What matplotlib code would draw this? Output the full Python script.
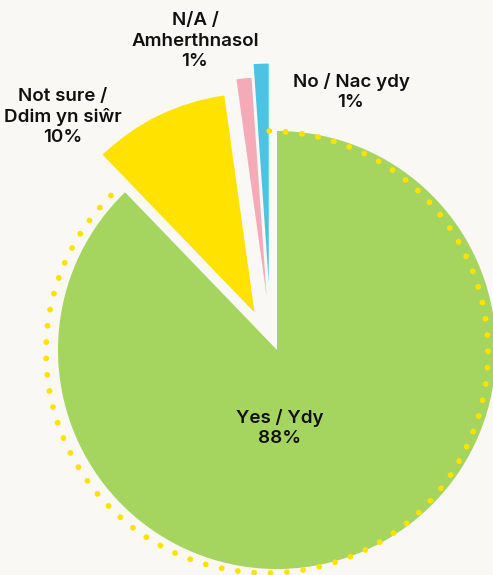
import math
import matplotlib
matplotlib.use("Agg")
import matplotlib.pyplot as plt
from matplotlib.patches import Arc

# survey answers, clockwise from 12 o'clock
labels = ["Yes / Ydy", "Not sure /\nDdim yn siŵr", "N/A /\nAmherthnasol", "No / Nac ydy"]
values = [87.8, 10.0, 1.1, 1.1]
pct_text = ["88%", "10%", "1%", "1%"]
colors = ["#a5d55f", "#ffe200", "#f5aab8", "#4cc3e1"]
explode = [0, 0.2, 0.25, 0.31]

bg = "#f9f8f5"
W, H = 493, 575
cx, cy, r = 277, H - 350, 219
tilt = 5  # degrees: pulled-out slices lean a bit further left than their middle

plt.rcParams["font.family"] = ["Inter", "DejaVu Sans"]

fig = plt.figure(figsize=(W / 100, H / 100), dpi=100, facecolor=bg)
ax = fig.add_axes([0, 0, 1, 1])
ax.set_facecolor(bg)

wedges, _ = ax.pie(values, colors=colors, startangle=90, counterclock=False,
                   center=(cx, cy), radius=r, wedgeprops=dict(linewidth=0))

# pull out slices along their middle angle (plus the small tilt)
for w, e in zip(wedges, explode):
    if e:
        mid = math.radians((w.theta1 + w.theta2) / 2 + tilt)
        w.set_center((cx + e * r * math.cos(mid), cy + e * r * math.sin(mid)))

# dotted outline round the big slice
yes_span = values[0] / sum(values) * 360
ring = Arc((cx - 10, cy - 2), 2 * 221, 2 * 221, theta1=90 - yes_span + 1, theta2=450,
           color="#ffe200", lw=4.2, linestyle=(0, (0.01, 2.8)), capstyle="round")
ax.add_patch(ring)

ax.set_xlim(0, W)
ax.set_ylim(0, H)
ax.set_aspect("equal")
ax.axis("off")

tkw = dict(ha="center", va="center", fontsize=13.5, fontweight="semibold",
           color="#111111", linespacing=1.25)
ax.text(280, H - 428, labels[0] + "\n" + pct_text[0], **tkw)
ax.text(63, H - 117, labels[1] + "\n" + pct_text[1], **tkw)
ax.text(195, H - 41, labels[2] + "\n" + pct_text[2], **tkw)
ax.text(351, H - 92, labels[3] + "\n" + pct_text[3], **tkw)

fig.savefig("out.png", dpi=100, facecolor=bg)
